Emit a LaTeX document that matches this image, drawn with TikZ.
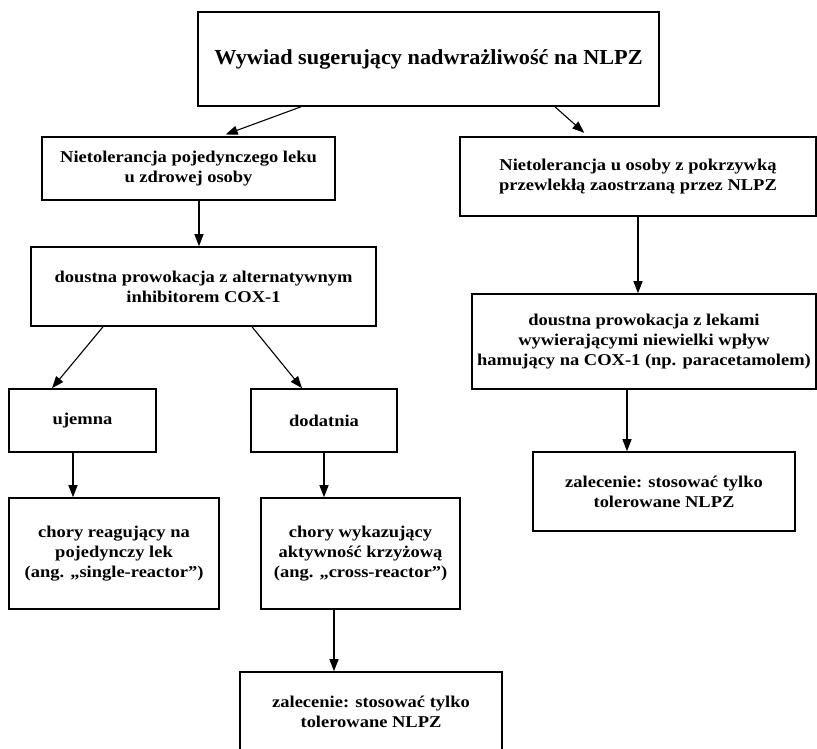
\documentclass[tikz,border=0pt]{standalone}
\usepackage{fontspec}
\setmainfont{Liberation Serif}
\newfontfamily\bodyfont[FakeStretch=1.12]{Liberation Serif}
\newfontfamily\headfont[FakeStretch=1.04]{Liberation Serif}
\usetikzlibrary{arrows.meta,positioning,calc}
\tikzset{>=Triangle,
 every node/.style={font=\bodyfont\bfseries\fontsize{16.5}{20}\selectfont,text=black},
 box/.style={draw=black,line width=1.6pt,fill=white,align=center,inner sep=0pt},
 head/.style={font=\headfont\bfseries\fontsize{21.4}{25}\selectfont},
 arr/.style={-{Triangle[length=12pt,width=9pt]},line width=1.1pt,draw=black},
 }

\begin{document}
\begin{tikzpicture}[x=1pt,y=-1pt]
 \useasboundingbox(0,0)rectangle(817,748);
 % boxes
 \node[box,head,minimum width=461pt,minimum height=94pt](top)at(428.5,59){Wywiad sugerujący nadwrażliwość na NLPZ};
 \node[box,minimum width=293pt,minimum height=63pt](tol)at(188.5,168.5){Nietolerancja pojedynczego leku\\u zdrowej osoby};
 \node[box,minimum width=356pt,minimum height=79pt](urt)at(638,176.5){Nietolerancja u osoby z pokrzywką\\przewlekłą zaostrzaną przez NLPZ};
 \node[box,minimum width=345pt,minimum height=79pt](prov)at(203.5,286.5){doustna prowokacja z alternatywnym\\inhibitorem COX-1};
 \node[box,minimum width=344pt,minimum height=95pt](provr)at(644,341.5){doustna prowokacja z lekami\\wywierającymi niewielki wpływ\\hamujący na COX-1 (np. paracetamolem)};
 \node[box,minimum width=147pt,minimum height=63pt](neg)at(82.5,420.5){ujemna};
 \node[box,minimum width=146pt,minimum height=63pt](pos)at(324,420.5){dodatnia};
 \node[box,minimum width=210pt,minimum height=111pt](single)at(114,553.5){chory reagujący na\\pojedynczy lek\\(ang. „single-reactor”)};
 \node[box,minimum width=199pt,minimum height=111pt](cross)at(360.5,553.5){chory wykazujący\\aktywność krzyżową\\(ang. „cross-reactor”)};
 \node[box,minimum width=262pt,minimum height=79pt](recr)at(664,491.5){zalecenie: stosować tylko\\tolerowane NLPZ};
 \node[box,minimum width=262pt,minimum height=80pt](recl)at(371,712){zalecenie: stosować tylko\\tolerowane NLPZ};
 % arrows
 \draw[arr,shorten >=5pt]([xshift=-127.5pt]top.south)--([xshift=32.5pt]tol.north);
 \draw[arr,shorten >=5pt]([xshift=126.5pt]top.south)--([xshift=-50pt]urt.north);
 \draw[arr]([xshift=10.5pt]tol.south)--([xshift=10.5pt]tol.south|-prov.north);
 \draw[arr](urt.south)--(urt.south|-provr.north);
 \draw[arr]([xshift=-100.5pt]prov.south)--([xshift=-30.5pt]neg.north);
 \draw[arr]([xshift=48.5pt]prov.south)--([xshift=-22pt]pos.north);
 \draw[arr]([xshift=-9.5pt]neg.south)--([xshift=-9.5pt]neg.south|-single.north);
 \draw[arr](pos.south)--(pos.south|-cross.north);
 \draw[arr]([xshift=-26.5pt]cross.south)--([xshift=-26.5pt]cross.south|-recl.north);
 \draw[arr]([xshift=-17pt]provr.south)--([xshift=-17pt]provr.south|-recr.north);
\end{tikzpicture}
\end{document}
